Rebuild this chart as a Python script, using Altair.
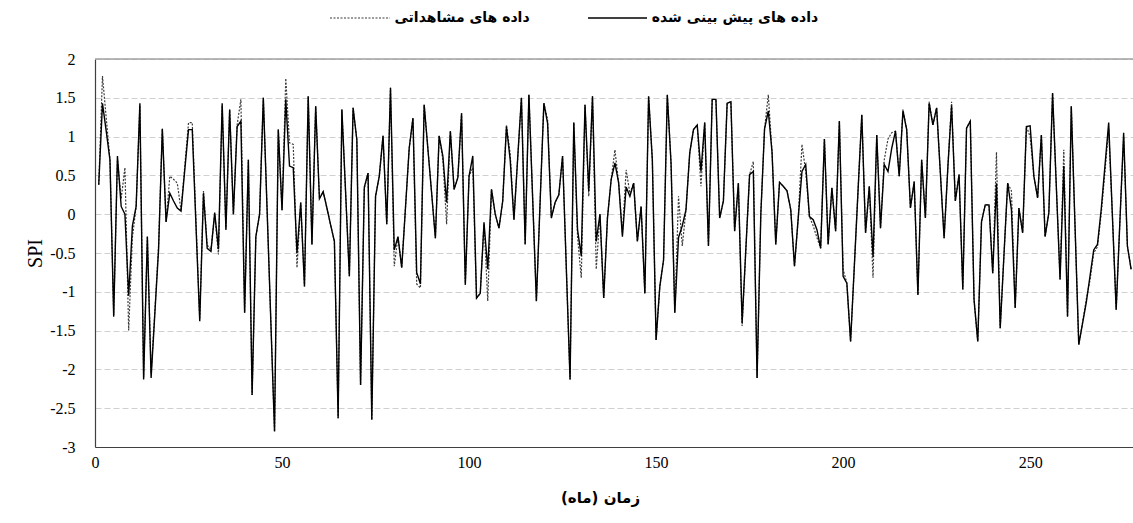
import altair as alt
import pandas as pd

predicted = [
    0.38, 1.43, 1.07, 0.70, -1.32, 0.75, 0.10, 0.00, -1.05, -0.15,
    0.10, 1.43, -2.13, -0.29, -2.11, -1.28, -0.45, 1.10, -0.10, 0.27,
    0.17, 0.08, 0.04, 0.57, 1.09, 1.09, -0.15, -1.38, 0.27, -0.44,
    -0.48, 0.02, -0.45, 1.43, -0.20, 1.35, 0.00, 1.13, 1.20, -1.27,
    0.70, -2.33, -0.29, 0.00, 1.50, 0.07, -1.37, -2.80, 1.09, 0.05,
    1.48, 0.62, 0.60, -0.50, 0.15, -0.93, 1.52, -0.39, 1.39, 0.20,
    0.29, 0.08, -0.14, -0.35, -2.63, 1.35, 0.28, -0.80, 1.37, 0.96,
    -2.20, 0.35, 0.53, -2.65, 0.23, 0.49, 1.01, -0.13, 1.63, -0.46,
    -0.29, -0.69, 0.08, 0.85, 1.24, -0.75, -0.90, 1.41, 0.84, 0.27,
    -0.31, 1.01, 0.75, 0.15, 1.07, 0.32, 0.47, 1.30, -0.91, 0.49,
    0.75, -1.08, -1.02, -0.11, -0.71, 0.32, 0.00, -0.18, 0.17, 1.13,
    0.70, -0.07, 0.72, 1.50, -0.39, 1.54, 0.21, -1.12, 0.16, 1.43,
    1.17, -0.05, 0.15, 0.25, 0.75, -0.69, -2.13, 1.18, -0.20, -0.54,
    1.41, 0.30, 1.52, -0.35, 0.00, -1.08, -0.05, 0.45, 0.66, 0.40,
    -0.29, 0.35, 0.23, 0.40, -0.35, 0.10, -1.02, 1.52, 0.70, -1.62,
    -0.93, -0.59, 1.54, 0.66, -1.27, -0.30, -0.15, 0.06, 0.79, 1.09,
    1.15, 0.55, 1.18, -0.41, 1.48, 1.48, -0.05, 0.17, 1.43, 1.45,
    -0.22, 0.40, -1.40, -0.45, 0.51, 0.55, -2.11, 0.00, 1.10, 1.33,
    0.80, -0.39, 0.41, 0.36, 0.30, 0.06, -0.67, -0.05, 0.55, 0.64,
    -0.03, -0.07, -0.20, -0.44, 0.97, -0.39, 0.34, -0.22, 1.20, -0.80,
    -0.89, -1.64, -0.67, 0.31, 1.28, -0.24, 0.36, -0.55, 1.02, -0.18,
    0.64, 0.55, 0.85, 1.07, 0.49, 1.33, 1.09, 0.08, 0.42, -1.04,
    0.70, -0.05, 1.43, 1.15, 1.37, 0.53, -0.31, 0.60, 1.40, 0.17,
    0.51, -0.97, 1.11, 1.20, -1.10, -1.64, -0.10, 0.12, 0.12, -0.76,
    0.40, -1.47, -0.53, 0.40, 0.06, -1.21, 0.08, -0.24, 1.13, 1.14,
    0.49, 0.21, 1.02, -0.29, 0.02, 1.56, 0.36, -0.84, 0.62, -1.32,
    1.39, -0.15, -1.68, -1.41, -1.14, -0.80, -0.46, -0.39, 0.06, 0.62,
    1.18, -0.03, -1.23, -0.09, 1.05, -0.41, -0.71,
]

observed = [
    0.38, 1.78, 1.24, 0.70, -1.30, 0.70, 0.20, 0.60, -1.50, -0.30,
    0.10, 1.40, -2.10, -0.28, -2.05, -1.25, -0.40, 1.10, -0.10, 0.49,
    0.45, 0.40, 0.05, 0.62, 1.18, 1.18, -0.10, -1.35, 0.30, -0.40,
    -0.45, 0.00, -0.52, 1.40, -0.20, 1.35, 0.00, 1.15, 1.48, -1.27,
    0.70, -2.33, -0.29, 0.00, 1.50, 0.07, -1.37, -2.80, 1.09, 0.05,
    1.75, 0.92, 0.90, -0.69, 0.15, -0.93, 1.52, -0.39, 1.39, 0.20,
    0.29, 0.08, -0.14, -0.35, -2.63, 1.35, 0.28, -0.80, 1.37, 0.96,
    -2.20, 0.33, 0.53, -2.65, 0.23, 0.49, 1.01, -0.13, 1.63, -0.67,
    -0.29, -0.69, 0.08, 0.85, 1.24, -0.90, -0.95, 1.41, 0.84, 0.27,
    -0.31, 1.01, 0.70, -0.13, 1.07, 0.32, 0.47, 1.30, -0.91, 0.49,
    0.60, -1.08, -1.02, -0.10, -1.12, 0.32, 0.00, -0.18, 0.17, 1.15,
    0.78, -0.07, 0.72, 1.50, -0.39, 1.54, 0.21, -1.12, 0.16, 1.43,
    1.22, -0.05, 0.15, 0.25, 0.75, -0.69, -2.13, 1.18, -0.29, -0.82,
    1.41, 0.23, 1.52, -0.71, 0.00, -1.08, -0.05, 0.45, 0.83, 0.40,
    -0.25, 0.57, 0.27, 0.40, -0.35, 0.10, -1.02, 1.52, 0.70, -1.62,
    -0.93, -0.59, 1.54, 0.66, -1.27, 0.23, -0.41, 0.06, 0.79, 1.09,
    1.15, 0.36, 1.18, -0.41, 1.48, 1.48, -0.05, 0.17, 1.43, 1.45,
    -0.22, 0.40, -1.44, -0.45, 0.51, 0.68, -2.11, 0.00, 1.10, 1.54,
    0.80, -0.39, 0.41, 0.36, 0.30, 0.06, -0.67, -0.05, 0.90, 0.55,
    -0.03, -0.15, -0.30, -0.44, 0.97, -0.39, 0.34, -0.22, 1.20, -0.71,
    -0.89, -1.64, -0.67, 0.31, 1.28, -0.24, 0.36, -0.82, 1.02, -0.18,
    0.70, 0.97, 1.05, 1.07, 0.49, 1.35, 1.09, 0.08, 0.42, -1.04,
    0.70, -0.05, 1.45, 1.15, 1.37, 0.53, -0.31, 0.60, 1.45, 0.17,
    0.51, -0.97, 1.11, 1.20, -1.10, -1.64, -0.09, 0.12, 0.12, -0.76,
    0.80, -1.47, -0.53, 0.40, 0.30, -1.21, 0.08, -0.24, 1.13, 1.00,
    0.49, 0.21, 1.02, -0.29, 0.02, 1.56, 0.36, -0.84, 0.83, -1.32,
    1.39, -0.15, -1.68, -1.40, -1.10, -0.85, -0.50, -0.42, 0.00, 0.55,
    1.10, -0.03, -1.23, -0.09, 1.00, -0.41, -0.71,
]

months = list(range(1, len(predicted) + 1))

x_ticks = [0, 50, 100, 150, 200, 250]
y_ticks = [-3, -2.5, -2, -1.5, -1, -0.5, 0, 0.5, 1, 1.5, 2]
legend_labels = ["داده های مشاهداتی", "داده های پیش بینی شده"]
x_title = "زمان (ماه)"
y_title = "SPI"

df_pred = pd.DataFrame({"month": months, "spi": predicted})
df_obs = pd.DataFrame({"month": months, "spi": observed})
df_top = pd.DataFrame({"month": [0], "spi": [2]})

xscale = alt.Scale(domain=[0, 277.5], nice=False, zero=False)
yscale = alt.Scale(domain=[-3, 2], nice=False, zero=False)

x_axis = alt.Axis(
    values=x_ticks,
    title=x_title,
    titleFont="DejaVu Sans",
    titleFontSize=15,
    titleFontWeight="bold",
    titleColor="#000000",
    titleX=505,
    titleY=50,
    titleBaseline="middle",
    titleAlign="center",
    labelFont="Liberation Serif",
    labelFontSize=16,
    labelColor="#000000",
    labelFlush=False,
    labelOverlap=False,
    labelPadding=7,
    labelExpr="'' + datum.value",
    domainColor="#404040",
    domainWidth=1.2,
    ticks=False,
    grid=False,
)

y_axis = alt.Axis(
    values=y_ticks,
    tickCount=11,
    title=y_title,
    titleFont="Liberation Serif",
    titleFontSize=20,
    titleFontWeight="normal",
    titleColor="#000000",
    titleAngle=270,
    titleX=-60,
    titleY=194,
    titleAlign="center",
    titleBaseline="middle",
    labelFont="Liberation Serif",
    labelFontSize=16,
    labelColor="#000000",
    labelOverlap=False,
    labelPadding=20,
    labelExpr="'' + datum.value",
    domainColor="#404040",
    domainWidth=1.2,
    ticks=False,
    grid=True,
    gridColor="#d0d0d0",
    gridDash=[6, 3],
    gridWidth=1,
)

x_enc = alt.X("month:Q", scale=xscale, axis=x_axis)
y_enc = alt.Y("spi:Q", scale=yscale, axis=y_axis)

obs_line = alt.Chart(df_obs).mark_line(
    color="#3a3a3a", strokeWidth=1.2, strokeDash=[2, 1.5]
).encode(x=x_enc, y=y_enc)

pred_line = alt.Chart(df_pred).mark_line(
    color="#000000", strokeWidth=1.4
).encode(x=x_enc, y=y_enc)

top_rule = alt.Chart(df_top).mark_rule(
    color="#a0a0a0", strokeWidth=1.5
).encode(y=y_enc)

one = pd.DataFrame({"k": [0]})
leg_obs_line = alt.Chart(one).mark_rule(
    color="#3a3a3a", strokeWidth=1.2, strokeDash=[2, 1.5]
).encode(x=alt.value(235), x2=alt.value(295), y=alt.value(-41))
leg_obs_text = alt.Chart(one).mark_text(
    font="DejaVu Sans", fontSize=14, fontWeight="bold", color="#000000",
    align="center", baseline="middle"
).encode(x=alt.value(367), y=alt.value(-41), text=alt.value(legend_labels[0]))
leg_pred_line = alt.Chart(one).mark_rule(
    color="#000000", strokeWidth=1.3
).encode(x=alt.value(493), x2=alt.value(552), y=alt.value(-41))
leg_pred_text = alt.Chart(one).mark_text(
    font="DejaVu Sans", fontSize=14, fontWeight="bold", color="#000000",
    align="center", baseline="middle"
).encode(x=alt.value(640), y=alt.value(-41), text=alt.value(legend_labels[1]))

chart = alt.layer(
    obs_line, pred_line, top_rule,
    leg_obs_line, leg_obs_text, leg_pred_line, leg_pred_text,
).properties(
    width=1038,
    height=388,
    autosize=alt.AutoSizeParams(type="none"),
    padding={"left": 95, "top": 59, "right": 0, "bottom": 76},
    background="#ffffff",
).configure_view(stroke="transparent")

chart.save("out.html", embed_options={"renderer": "svg", "actions": False})
